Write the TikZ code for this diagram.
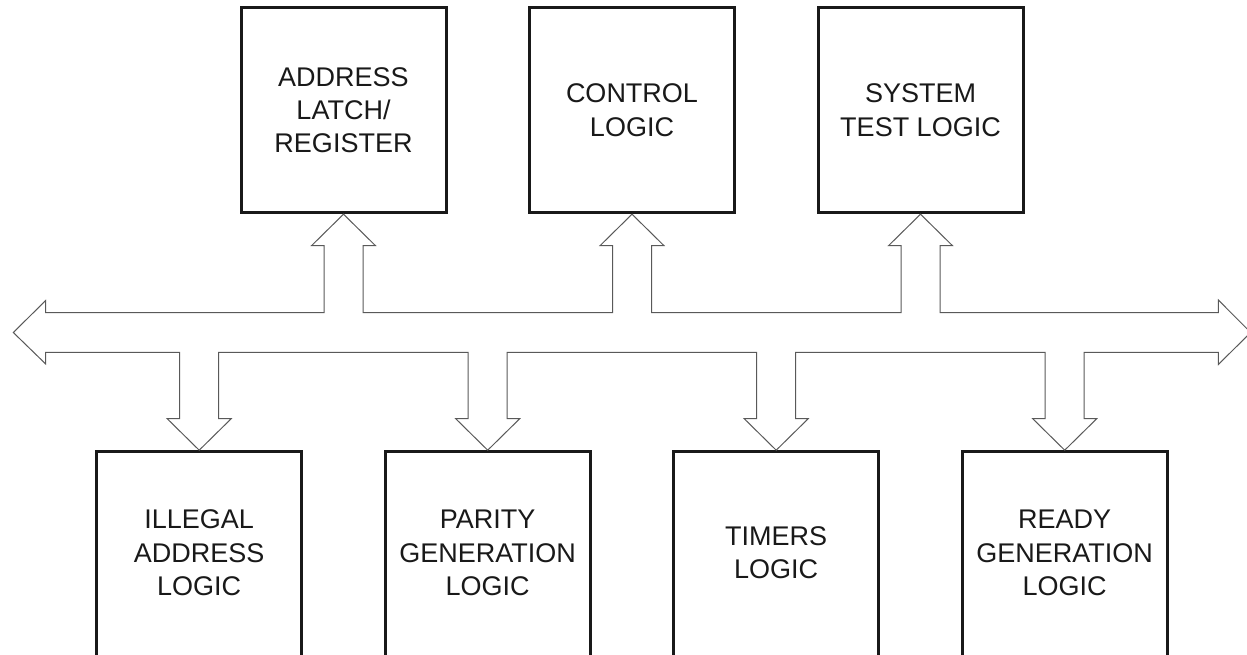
\documentclass[tikz,border=0pt]{standalone}
\usepackage{fontspec}
\setmainfont{Liberation Sans}
\usetikzlibrary{calc}

\begin{document}
\begin{tikzpicture}[x=1pt, y=-1pt,
  box/.style={draw=black!90, line width=3pt, minimum width=205pt, inner sep=0pt},
  topbox/.style={box, minimum height=205pt},
  botbox/.style={box, minimum height=230pt, anchor=north},
  lbl/.style={align=center, text=black!90, font=\fontsize{27}{33.3}\selectfont},
  bus/.style={draw=black!65, line width=1pt, line join=miter}]

\useasboundingbox (0,0) rectangle (1247,655);
\clip (0,0) rectangle (1247,655);

% units on the upper side of the bus
\node[topbox, lbl] (adr) at (343.5,110.2) {ADDRESS\\LATCH/\\REGISTER};
\node[topbox, lbl] (ctl) at (632,110.2)   {CONTROL\\LOGIC};
\node[topbox, lbl] (tst) at (920.5,110.2) {SYSTEM\\TEST LOGIC};

% units on the lower side of the bus (open at the bottom edge)
\node[botbox] (ill) at (199.2,450.2)  {};
\node[botbox] (par) at (487.7,450.2)  {};
\node[botbox] (tim) at (776.2,450.2)  {};
\node[botbox] (rdy) at (1064.7,450.2) {};
\node[lbl] (ill-t) at (199.2,553)  {ILLEGAL\\ADDRESS\\LOGIC};
\node[lbl] (par-t) at (487.7,553)  {PARITY\\GENERATION\\LOGIC};
\node[lbl] (tim-t) at (776.2,553)  {TIMERS\\LOGIC};
\node[lbl] (rdy-t) at (1064.7,553) {READY\\GENERATION\\LOGIC};

% bus edges and end points
\coordinate (T) at (0,312.7);
\coordinate (B) at (0,352.3);
\coordinate (busL) at (13.3,332.5);
\coordinate (busR) at (1250.7,332.5);

% the bus outline with its branches
\draw[bus]
  (busL) -- ++(32.4,-32) -- ++(0,12.2)
  % branch up to the address latch
  -- ($(adr.south |- T)+(-19.5,0)$) -- ($(adr.south)+(-19.5,31.5)$) -- ++(-12.5,0)
  -- (adr.south) -- ++(32,31.5) -- ++(-12.5,0) -- ($(adr.south |- T)+(19.5,0)$)
  % branch up to the control logic
  -- ($(ctl.south |- T)+(-19.5,0)$) -- ($(ctl.south)+(-19.5,31.5)$) -- ++(-12.5,0)
  -- (ctl.south) -- ++(32,31.5) -- ++(-12.5,0) -- ($(ctl.south |- T)+(19.5,0)$)
  % branch up to the system test logic
  -- ($(tst.south |- T)+(-19.5,0)$) -- ($(tst.south)+(-19.5,31.5)$) -- ++(-12.5,0)
  -- (tst.south) -- ++(32,31.5) -- ++(-12.5,0) -- ($(tst.south |- T)+(19.5,0)$)
  % right head
  -- ($(busR |- T)+(-32.4,0)$) -- ++(0,-12.7) -- (busR) -- ++(-32.4,32) -- ++(0,-12.2)
  % branch down to the ready generation logic
  -- ($(rdy.north |- B)+(19.5,0)$) -- ($(rdy.north)+(19.5,-31.5)$) -- ++(12.5,0)
  -- (rdy.north) -- ++(-32,-31.5) -- ++(12.5,0) -- ($(rdy.north |- B)+(-19.5,0)$)
  % branch down to the timers logic
  -- ($(tim.north |- B)+(19.5,0)$) -- ($(tim.north)+(19.5,-31.5)$) -- ++(12.5,0)
  -- (tim.north) -- ++(-32,-31.5) -- ++(12.5,0) -- ($(tim.north |- B)+(-19.5,0)$)
  % branch down to the parity generation logic
  -- ($(par.north |- B)+(19.5,0)$) -- ($(par.north)+(19.5,-31.5)$) -- ++(12.5,0)
  -- (par.north) -- ++(-32,-31.5) -- ++(12.5,0) -- ($(par.north |- B)+(-19.5,0)$)
  % branch down to the illegal address logic
  -- ($(ill.north |- B)+(19.5,0)$) -- ($(ill.north)+(19.5,-31.5)$) -- ++(12.5,0)
  -- (ill.north) -- ++(-32,-31.5) -- ++(12.5,0) -- ($(ill.north |- B)+(-19.5,0)$)
  % left head
  -- ($(busL |- B)+(32.4,0)$) -- ++(0,11.7) -- cycle;

\end{tikzpicture}
\end{document}
